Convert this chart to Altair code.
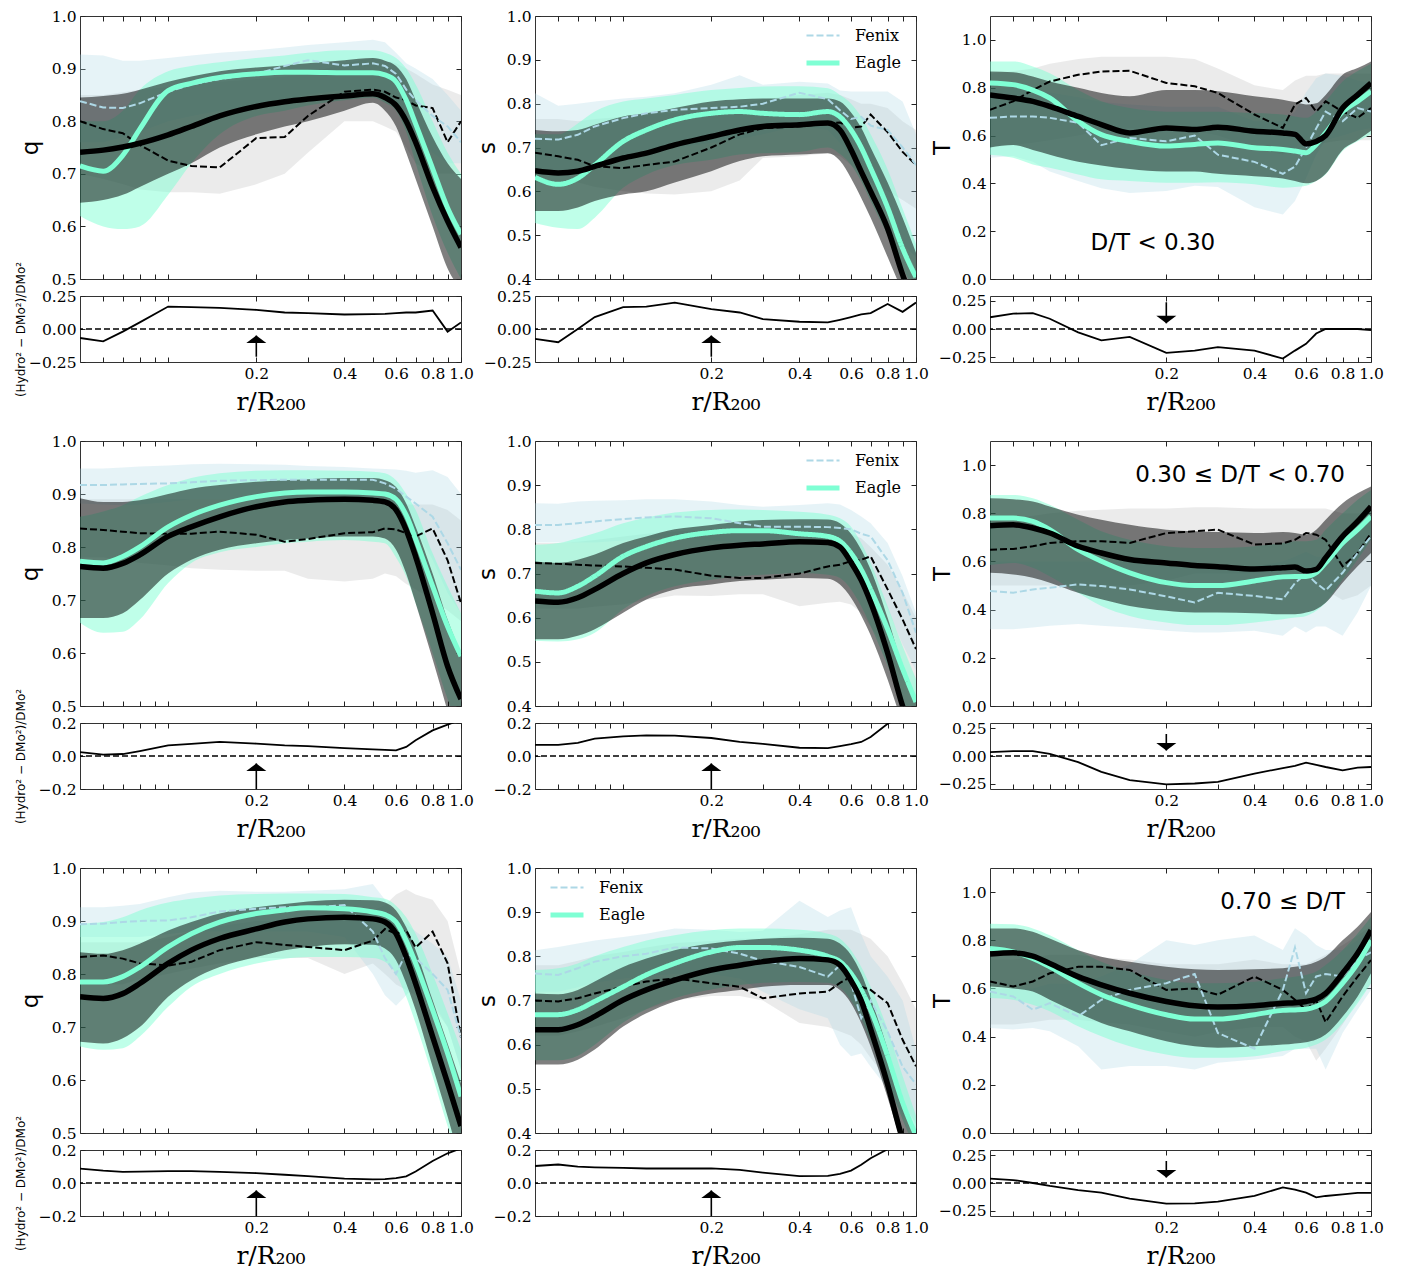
import altair as alt
import pandas as pd

# ---------------- radial grid (r / R200) ----------------
R = [0.05, 0.06, 0.07, 0.08, 0.1, 0.12, 0.15, 0.2, 0.25, 0.3, 0.4, 0.5, 0.55, 0.6, 0.65, 0.7, 0.8, 0.9, 1.0]

# ---------------- row 1 : D/T < 0.30 ----------------
# q
P11_dmo      = [0.741, 0.745, 0.751, 0.758, 0.774, 0.79, 0.81, 0.828, 0.837, 0.842, 0.848, 0.852, 0.845, 0.83, 0.80, 0.76, 0.675, 0.61, 0.56]
P11_dmo_lo   = [0.645, 0.65, 0.66, 0.675, 0.70, 0.72, 0.75, 0.775, 0.79, 0.80, 0.82, 0.835, 0.82, 0.79, 0.74, 0.69, 0.60, 0.52, 0.48]
P11_dmo_hi   = [0.845, 0.848, 0.852, 0.86, 0.875, 0.885, 0.895, 0.902, 0.906, 0.91, 0.916, 0.92, 0.915, 0.905, 0.88, 0.84, 0.77, 0.72, 0.69]
P11_eagle    = [0.715, 0.705, 0.735, 0.785, 0.858, 0.872, 0.883, 0.89, 0.893, 0.893, 0.892, 0.892, 0.888, 0.875, 0.84, 0.795, 0.71, 0.635, 0.585]
P11_eagle_lo = [0.62, 0.60, 0.595, 0.60, 0.66, 0.72, 0.775, 0.81, 0.82, 0.83, 0.84, 0.845, 0.835, 0.82, 0.78, 0.72, 0.62, 0.55, 0.50]
P11_eagle_hi = [0.80, 0.80, 0.82, 0.86, 0.895, 0.905, 0.912, 0.92, 0.925, 0.93, 0.935, 0.935, 0.93, 0.92, 0.90, 0.87, 0.80, 0.74, 0.70]
P11_fenix    = [0.838, 0.826, 0.825, 0.834, 0.856, 0.87, 0.88, 0.89, 0.905, 0.916, 0.906, 0.91, 0.905, 0.89, 0.86, 0.84, 0.81, 0.79, 0.76]
P11_fenix_lo = [0.76, 0.76, 0.77, 0.78, 0.80, 0.81, 0.82, 0.83, 0.84, 0.85, 0.86, 0.86, 0.85, 0.83, 0.80, 0.78, 0.74, 0.72, 0.72]
P11_fenix_hi = [0.927, 0.925, 0.915, 0.915, 0.92, 0.925, 0.93, 0.935, 0.94, 0.945, 0.95, 0.955, 0.95, 0.93, 0.91, 0.90, 0.88, 0.85, 0.82]
P11_hydro    = [0.80, 0.785, 0.777, 0.755, 0.725, 0.715, 0.712, 0.768, 0.77, 0.81, 0.856, 0.86, 0.856, 0.845, 0.84, 0.83, 0.825, 0.76, 0.80]
P11_hydro_lo = [0.70, 0.69, 0.68, 0.67, 0.665, 0.665, 0.662, 0.68, 0.70, 0.74, 0.80, 0.80, 0.79, 0.78, 0.75, 0.72, 0.70, 0.70, 0.70]
P11_hydro_hi = [0.85, 0.85, 0.855, 0.86, 0.865, 0.87, 0.875, 0.88, 0.885, 0.89, 0.91, 0.92, 0.915, 0.91, 0.90, 0.89, 0.87, 0.86, 0.85]
P11_resid    = [-0.068, -0.093, -0.02, 0.05, 0.17, 0.165, 0.16, 0.145, 0.125, 0.12, 0.11, 0.113, 0.115, 0.12, 0.125, 0.125, 0.14, -0.02, 0.05]
# s
P12_dmo      = [0.647, 0.642, 0.646, 0.657, 0.676, 0.687, 0.706, 0.725, 0.74, 0.748, 0.752, 0.756, 0.74, 0.695, 0.645, 0.60, 0.515, 0.41, 0.33]
P12_dmo_lo   = [0.555, 0.555, 0.563, 0.578, 0.593, 0.60, 0.62, 0.646, 0.669, 0.68, 0.684, 0.687, 0.67, 0.63, 0.585, 0.54, 0.45, 0.37, 0.30]
P12_dmo_hi   = [0.74, 0.737, 0.74, 0.752, 0.771, 0.778, 0.79, 0.805, 0.81, 0.812, 0.812, 0.812, 0.805, 0.78, 0.745, 0.70, 0.62, 0.54, 0.46]
P12_eagle    = [0.632, 0.616, 0.63, 0.66, 0.714, 0.74, 0.763, 0.778, 0.782, 0.778, 0.775, 0.782, 0.77, 0.74, 0.70, 0.653, 0.563, 0.47, 0.404]
P12_eagle_lo = [0.528, 0.517, 0.514, 0.54, 0.608, 0.638, 0.66, 0.672, 0.684, 0.687, 0.69, 0.70, 0.685, 0.66, 0.623, 0.578, 0.50, 0.426, 0.366]
P12_eagle_hi = [0.73, 0.73, 0.755, 0.782, 0.805, 0.812, 0.82, 0.831, 0.836, 0.839, 0.84, 0.835, 0.82, 0.80, 0.77, 0.73, 0.65, 0.56, 0.48]
P12_fenix    = [0.72, 0.718, 0.729, 0.748, 0.767, 0.778, 0.786, 0.79, 0.793, 0.80, 0.825, 0.81, 0.785, 0.765, 0.77, 0.75, 0.74, 0.70, 0.66]
P12_fenix_lo = [0.64, 0.64, 0.65, 0.66, 0.68, 0.69, 0.70, 0.71, 0.72, 0.73, 0.75, 0.74, 0.71, 0.68, 0.65, 0.62, 0.55, 0.48, 0.45]
P12_fenix_hi = [0.824, 0.795, 0.80, 0.805, 0.812, 0.816, 0.824, 0.843, 0.865, 0.843, 0.85, 0.846, 0.83, 0.828, 0.828, 0.828, 0.828, 0.805, 0.73]
P12_hydro    = [0.688, 0.68, 0.672, 0.657, 0.653, 0.66, 0.668, 0.70, 0.73, 0.744, 0.748, 0.755, 0.757, 0.745, 0.748, 0.775, 0.735, 0.69, 0.66]
P12_hydro_lo = [0.62, 0.62, 0.62, 0.61, 0.60, 0.595, 0.593, 0.60, 0.625, 0.676, 0.68, 0.687, 0.68, 0.66, 0.64, 0.62, 0.60, 0.58, 0.56]
P12_hydro_hi = [0.765, 0.765, 0.76, 0.765, 0.77, 0.775, 0.78, 0.79, 0.80, 0.81, 0.82, 0.825, 0.82, 0.81, 0.80, 0.80, 0.79, 0.76, 0.74]
P12_resid    = [-0.075, -0.10, 0.0, 0.09, 0.165, 0.17, 0.20, 0.15, 0.125, 0.075, 0.055, 0.05, 0.07, 0.09, 0.11, 0.12, 0.19, 0.13, 0.20]
# T
P13_dmo      = [0.77, 0.757, 0.743, 0.722, 0.68, 0.646, 0.611, 0.632, 0.625, 0.635, 0.618, 0.611, 0.605, 0.565, 0.575, 0.60, 0.715, 0.77, 0.82]
P13_dmo_lo   = [0.55, 0.56, 0.54, 0.52, 0.49, 0.475, 0.46, 0.45, 0.45, 0.44, 0.43, 0.42, 0.41, 0.40, 0.41, 0.44, 0.54, 0.58, 0.62]
P13_dmo_hi   = [0.868, 0.865, 0.847, 0.826, 0.80, 0.778, 0.764, 0.79, 0.79, 0.785, 0.764, 0.75, 0.74, 0.73, 0.735, 0.77, 0.854, 0.882, 0.91]
P13_eagle    = [0.82, 0.813, 0.79, 0.757, 0.66, 0.604, 0.576, 0.556, 0.563, 0.569, 0.549, 0.542, 0.535, 0.528, 0.563, 0.611, 0.70, 0.743, 0.785]
P13_eagle_lo = [0.52, 0.507, 0.479, 0.465, 0.4375, 0.417, 0.41, 0.403, 0.403, 0.405, 0.396, 0.382, 0.385, 0.39, 0.41, 0.4375, 0.535, 0.576, 0.604]
P13_eagle_hi = [0.91, 0.91, 0.889, 0.861, 0.79, 0.743, 0.715, 0.70, 0.70, 0.70, 0.694, 0.688, 0.68, 0.674, 0.70, 0.743, 0.826, 0.87, 0.90]
P13_fenix    = [0.674, 0.68, 0.68, 0.674, 0.653, 0.56, 0.59, 0.576, 0.60, 0.52, 0.49, 0.44, 0.47, 0.55, 0.63, 0.70, 0.66, 0.715, 0.70]
P13_fenix_lo = [0.507, 0.514, 0.49, 0.45, 0.41, 0.38, 0.36, 0.368, 0.39, 0.385, 0.30, 0.27, 0.326, 0.42, 0.52, 0.58, 0.60, 0.62, 0.632]
P13_fenix_hi = [0.80, 0.80, 0.79, 0.78, 0.76, 0.74, 0.73, 0.72, 0.72, 0.72, 0.66, 0.66, 0.70, 0.78, 0.84, 0.86, 0.85, 0.83, 0.82]
P13_hydro    = [0.708, 0.743, 0.79, 0.826, 0.854, 0.868, 0.871, 0.82, 0.806, 0.778, 0.688, 0.632, 0.73, 0.757, 0.70, 0.743, 0.70, 0.674, 0.715]
P13_hydro_lo = [0.55, 0.56, 0.57, 0.58, 0.60, 0.62, 0.63, 0.63, 0.62, 0.60, 0.55, 0.52, 0.54, 0.56, 0.56, 0.57, 0.58, 0.58, 0.58]
P13_hydro_hi = [0.86, 0.87, 0.88, 0.90, 0.92, 0.93, 0.93, 0.93, 0.92, 0.88, 0.81, 0.79, 0.83, 0.85, 0.85, 0.86, 0.86, 0.86, 0.86]
P13_resid    = [0.103, 0.135, 0.14, 0.09, -0.03, -0.10, -0.07, -0.21, -0.19, -0.16, -0.19, -0.26, -0.19, -0.13, -0.04, 0.0, 0.0, 0.0, -0.01]

# ---------------- row 2 : 0.30 <= D/T < 0.70 ----------------
P21_dmo      = [0.763, 0.76, 0.769, 0.785, 0.82, 0.838, 0.857, 0.876, 0.885, 0.888, 0.89, 0.888, 0.885, 0.87, 0.832, 0.782, 0.675, 0.575, 0.513]
P21_dmo_lo   = [0.666, 0.666, 0.675, 0.70, 0.75, 0.776, 0.795, 0.807, 0.813, 0.816, 0.82, 0.82, 0.816, 0.795, 0.75, 0.694, 0.588, 0.49, 0.40]
P21_dmo_hi   = [0.892, 0.885, 0.885, 0.888, 0.90, 0.91, 0.917, 0.923, 0.926, 0.928, 0.93, 0.93, 0.926, 0.913, 0.882, 0.838, 0.75, 0.663, 0.60]
P21_eagle    = [0.773, 0.77, 0.782, 0.80, 0.838, 0.86, 0.879, 0.895, 0.902, 0.904, 0.904, 0.902, 0.90, 0.89, 0.86, 0.815, 0.726, 0.65, 0.594]
P21_eagle_lo = [0.657, 0.638, 0.64, 0.663, 0.732, 0.77, 0.79, 0.80, 0.807, 0.81, 0.813, 0.81, 0.807, 0.78, 0.744, 0.694, 0.60, 0.513, 0.45]
P21_eagle_hi = [0.857, 0.867, 0.879, 0.895, 0.917, 0.93, 0.939, 0.944, 0.945, 0.945, 0.944, 0.942, 0.939, 0.926, 0.90, 0.87, 0.788, 0.726, 0.675]
P21_fenix    = [0.917, 0.917, 0.918, 0.919, 0.92, 0.922, 0.925, 0.926, 0.927, 0.927, 0.927, 0.927, 0.92, 0.91, 0.895, 0.882, 0.857, 0.807, 0.757]
P21_fenix_lo = [0.882, 0.88, 0.879, 0.88, 0.885, 0.89, 0.89, 0.89, 0.89, 0.89, 0.89, 0.89, 0.885, 0.87, 0.85, 0.832, 0.776, 0.713, 0.675]
P21_fenix_hi = [0.948, 0.948, 0.95, 0.952, 0.954, 0.956, 0.957, 0.956, 0.955, 0.953, 0.951, 0.948, 0.947, 0.946, 0.944, 0.94, 0.945, 0.932, 0.90]
P21_hydro    = [0.835, 0.832, 0.829, 0.826, 0.825, 0.825, 0.829, 0.823, 0.81, 0.815, 0.826, 0.828, 0.835, 0.833, 0.826, 0.82, 0.835, 0.775, 0.694]
P21_hydro_lo = [0.78, 0.78, 0.775, 0.77, 0.765, 0.76, 0.757, 0.755, 0.755, 0.74, 0.735, 0.74, 0.75, 0.745, 0.73, 0.72, 0.70, 0.68, 0.66]
P21_hydro_hi = [0.89, 0.89, 0.89, 0.89, 0.89, 0.89, 0.89, 0.89, 0.89, 0.89, 0.89, 0.89, 0.89, 0.885, 0.88, 0.88, 0.88, 0.87, 0.85]
P21_resid    = [0.024, 0.008, 0.012, 0.03, 0.064, 0.074, 0.085, 0.075, 0.065, 0.06, 0.048, 0.04, 0.037, 0.034, 0.055, 0.095, 0.155, 0.19, 0.22]

P22_dmo      = [0.638, 0.635, 0.645, 0.664, 0.70, 0.724, 0.743, 0.758, 0.764, 0.767, 0.772, 0.77, 0.76, 0.725, 0.685, 0.635, 0.52, 0.40, 0.32]
P22_dmo_lo   = [0.551, 0.551, 0.559, 0.574, 0.611, 0.641, 0.664, 0.675, 0.683, 0.686, 0.69, 0.688, 0.675, 0.645, 0.605, 0.56, 0.46, 0.36, 0.28]
P22_dmo_hi   = [0.728, 0.724, 0.731, 0.743, 0.769, 0.784, 0.80, 0.81, 0.818, 0.821, 0.823, 0.822, 0.814, 0.79, 0.754, 0.709, 0.60, 0.49, 0.41]
P22_eagle    = [0.66, 0.656, 0.671, 0.694, 0.739, 0.761, 0.78, 0.793, 0.797, 0.797, 0.79, 0.784, 0.773, 0.746, 0.709, 0.664, 0.574, 0.484, 0.409]
P22_eagle_lo = [0.548, 0.546, 0.551, 0.566, 0.619, 0.649, 0.671, 0.686, 0.694, 0.697, 0.701, 0.697, 0.69, 0.664, 0.626, 0.581, 0.491, 0.409, 0.33]
P22_eagle_hi = [0.765, 0.769, 0.78, 0.791, 0.814, 0.827, 0.838, 0.844, 0.845, 0.844, 0.84, 0.833, 0.825, 0.806, 0.769, 0.724, 0.626, 0.536, 0.461]
P22_fenix    = [0.81, 0.81, 0.814, 0.818, 0.823, 0.827, 0.829, 0.825, 0.814, 0.806, 0.806, 0.805, 0.803, 0.80, 0.79, 0.784, 0.73, 0.656, 0.566]
P22_fenix_lo = [0.77, 0.77, 0.77, 0.77, 0.775, 0.78, 0.78, 0.775, 0.77, 0.77, 0.77, 0.765, 0.76, 0.75, 0.73, 0.70, 0.62, 0.54, 0.48]
P22_fenix_hi = [0.859, 0.858, 0.863, 0.865, 0.866, 0.868, 0.868, 0.863, 0.855, 0.851, 0.855, 0.859, 0.856, 0.844, 0.829, 0.814, 0.769, 0.694, 0.611]
P22_hydro    = [0.724, 0.722, 0.72, 0.718, 0.716, 0.713, 0.709, 0.695, 0.69, 0.69, 0.70, 0.716, 0.72, 0.728, 0.731, 0.739, 0.664, 0.596, 0.529]
P22_hydro_lo = [0.62, 0.62, 0.62, 0.625, 0.63, 0.64, 0.65, 0.649, 0.653, 0.653, 0.626, 0.634, 0.636, 0.63, 0.611, 0.58, 0.52, 0.46, 0.416]
P22_hydro_hi = [0.769, 0.769, 0.772, 0.776, 0.784, 0.79, 0.795, 0.80, 0.80, 0.80, 0.80, 0.80, 0.80, 0.79, 0.78, 0.76, 0.72, 0.66, 0.60]
P22_resid    = [0.068, 0.068, 0.08, 0.105, 0.119, 0.125, 0.124, 0.109, 0.085, 0.074, 0.05, 0.048, 0.06, 0.072, 0.085, 0.115, 0.195, 0.245, 0.28]

P23_dmo      = [0.748, 0.752, 0.739, 0.718, 0.663, 0.635, 0.608, 0.594, 0.583, 0.578, 0.569, 0.574, 0.577, 0.56, 0.567, 0.615, 0.704, 0.766, 0.828]
P23_dmo_lo   = [0.553, 0.546, 0.532, 0.512, 0.47, 0.443, 0.415, 0.395, 0.388, 0.388, 0.385, 0.381, 0.381, 0.388, 0.402, 0.429, 0.512, 0.58, 0.635]
P23_dmo_hi   = [0.862, 0.858, 0.849, 0.828, 0.794, 0.773, 0.752, 0.732, 0.725, 0.722, 0.718, 0.722, 0.718, 0.711, 0.732, 0.773, 0.842, 0.883, 0.911]
P23_eagle    = [0.78, 0.78, 0.766, 0.732, 0.649, 0.601, 0.553, 0.512, 0.50, 0.50, 0.519, 0.536, 0.538, 0.538, 0.553, 0.594, 0.677, 0.732, 0.787]
P23_eagle_lo = [0.585, 0.594, 0.574, 0.539, 0.47, 0.415, 0.374, 0.347, 0.336, 0.336, 0.347, 0.36, 0.367, 0.374, 0.395, 0.429, 0.525, 0.608, 0.69]
P23_eagle_hi = [0.876, 0.876, 0.862, 0.835, 0.773, 0.725, 0.69, 0.663, 0.656, 0.656, 0.663, 0.677, 0.684, 0.684, 0.69, 0.732, 0.80, 0.856, 0.897]
P23_fenix    = [0.477, 0.47, 0.484, 0.491, 0.505, 0.498, 0.484, 0.455, 0.43, 0.47, 0.457, 0.443, 0.51, 0.55, 0.51, 0.48, 0.553, 0.635, 0.704]
P23_fenix_lo = [0.319, 0.319, 0.326, 0.333, 0.34, 0.333, 0.326, 0.312, 0.305, 0.305, 0.312, 0.292, 0.33, 0.305, 0.33, 0.33, 0.292, 0.388, 0.498]
P23_fenix_hi = [0.60, 0.60, 0.60, 0.60, 0.60, 0.60, 0.60, 0.58, 0.57, 0.58, 0.58, 0.60, 0.62, 0.64, 0.62, 0.62, 0.70, 0.76, 0.80]
P23_hydro    = [0.649, 0.652, 0.663, 0.677, 0.684, 0.684, 0.677, 0.718, 0.725, 0.732, 0.67, 0.675, 0.69, 0.718, 0.711, 0.69, 0.58, 0.635, 0.718]
P23_hydro_lo = [0.50, 0.50, 0.50, 0.50, 0.50, 0.50, 0.50, 0.52, 0.55, 0.55, 0.55, 0.56, 0.55, 0.55, 0.52, 0.48, 0.44, 0.46, 0.50]
P23_hydro_hi = [0.78, 0.78, 0.79, 0.80, 0.81, 0.815, 0.82, 0.82, 0.825, 0.825, 0.82, 0.82, 0.82, 0.82, 0.82, 0.82, 0.80, 0.80, 0.80]
P23_resid    = [0.036, 0.045, 0.045, 0.02, -0.055, -0.145, -0.22, -0.258, -0.25, -0.236, -0.16, -0.11, -0.09, -0.06, -0.08, -0.10, -0.13, -0.105, -0.10]

# ---------------- row 3 : 0.70 <= D/T ----------------
P31_dmo      = [0.757, 0.754, 0.763, 0.782, 0.82, 0.845, 0.867, 0.885, 0.898, 0.904, 0.907, 0.904, 0.898, 0.876, 0.832, 0.782, 0.682, 0.594, 0.513]
P31_dmo_lo   = [0.672, 0.669, 0.679, 0.70, 0.757, 0.788, 0.813, 0.832, 0.845, 0.851, 0.856, 0.855, 0.848, 0.826, 0.782, 0.732, 0.625, 0.531, 0.44]
P31_dmo_hi   = [0.841, 0.838, 0.845, 0.857, 0.882, 0.898, 0.914, 0.926, 0.932, 0.937, 0.94, 0.939, 0.935, 0.92, 0.888, 0.845, 0.751, 0.669, 0.594]
P31_eagle    = [0.785, 0.785, 0.795, 0.813, 0.851, 0.876, 0.898, 0.914, 0.921, 0.925, 0.923, 0.917, 0.912, 0.898, 0.863, 0.82, 0.732, 0.65, 0.569]
P31_eagle_lo = [0.663, 0.657, 0.66, 0.682, 0.738, 0.776, 0.80, 0.82, 0.829, 0.832, 0.832, 0.83, 0.823, 0.80, 0.757, 0.707, 0.607, 0.513, 0.44]
P31_eagle_hi = [0.895, 0.898, 0.907, 0.92, 0.935, 0.942, 0.948, 0.951, 0.952, 0.952, 0.951, 0.945, 0.942, 0.929, 0.907, 0.876, 0.80, 0.726, 0.657]
P31_fenix    = [0.894, 0.895, 0.898, 0.90, 0.901, 0.907, 0.918, 0.923, 0.926, 0.925, 0.93, 0.88, 0.83, 0.80, 0.84, 0.83, 0.80, 0.77, 0.68]
P31_fenix_lo = [0.87, 0.87, 0.87, 0.87, 0.875, 0.88, 0.88, 0.88, 0.88, 0.88, 0.87, 0.80, 0.76, 0.74, 0.76, 0.78, 0.75, 0.70, 0.62]
P31_fenix_hi = [0.926, 0.926, 0.929, 0.932, 0.945, 0.954, 0.957, 0.955, 0.955, 0.957, 0.96, 0.97, 0.94, 0.907, 0.895, 0.88, 0.857, 0.832, 0.75]
P31_hydro    = [0.832, 0.835, 0.829, 0.82, 0.816, 0.823, 0.845, 0.86, 0.855, 0.851, 0.845, 0.863, 0.885, 0.876, 0.882, 0.85, 0.88, 0.82, 0.68]
P31_hydro_lo = [0.78, 0.78, 0.78, 0.79, 0.80, 0.81, 0.82, 0.83, 0.83, 0.83, 0.80, 0.82, 0.80, 0.78, 0.77, 0.76, 0.74, 0.70, 0.62]
P31_hydro_hi = [0.86, 0.86, 0.86, 0.86, 0.87, 0.88, 0.89, 0.90, 0.90, 0.90, 0.90, 0.92, 0.93, 0.95, 0.96, 0.95, 0.94, 0.90, 0.80]
P31_resid    = [0.087, 0.075, 0.068, 0.069, 0.072, 0.072, 0.068, 0.06, 0.05, 0.042, 0.026, 0.022, 0.024, 0.03, 0.04, 0.07, 0.133, 0.18, 0.21]

P32_dmo      = [0.634, 0.634, 0.645, 0.664, 0.701, 0.724, 0.746, 0.769, 0.78, 0.788, 0.795, 0.792, 0.78, 0.745, 0.70, 0.635, 0.51, 0.385, 0.30]
P32_dmo_lo   = [0.555, 0.555, 0.566, 0.589, 0.641, 0.671, 0.698, 0.716, 0.724, 0.731, 0.735, 0.735, 0.724, 0.694, 0.649, 0.596, 0.48, 0.37, 0.28]
P32_dmo_hi   = [0.716, 0.714, 0.724, 0.743, 0.776, 0.795, 0.814, 0.829, 0.836, 0.84, 0.842, 0.84, 0.829, 0.803, 0.761, 0.705, 0.59, 0.47, 0.39]
P32_eagle    = [0.668, 0.668, 0.679, 0.698, 0.731, 0.758, 0.784, 0.81, 0.82, 0.82, 0.814, 0.80, 0.788, 0.761, 0.724, 0.679, 0.574, 0.469, 0.394]
P32_eagle_lo = [0.565, 0.565, 0.575, 0.60, 0.65, 0.68, 0.705, 0.725, 0.735, 0.74, 0.742, 0.74, 0.73, 0.70, 0.66, 0.61, 0.52, 0.43, 0.36]
P32_eagle_hi = [0.769, 0.773, 0.784, 0.80, 0.821, 0.836, 0.848, 0.859, 0.863, 0.863, 0.86, 0.851, 0.84, 0.814, 0.776, 0.731, 0.634, 0.529, 0.439]
P32_fenix    = [0.761, 0.758, 0.773, 0.788, 0.80, 0.806, 0.82, 0.818, 0.806, 0.79, 0.776, 0.754, 0.78, 0.74, 0.66, 0.70, 0.63, 0.55, 0.51]
P32_fenix_lo = [0.72, 0.72, 0.73, 0.74, 0.75, 0.755, 0.76, 0.76, 0.75, 0.72, 0.68, 0.66, 0.60, 0.574, 0.58, 0.55, 0.50, 0.44, 0.40]
P32_fenix_hi = [0.814, 0.821, 0.829, 0.836, 0.844, 0.851, 0.863, 0.86, 0.855, 0.858, 0.926, 0.889, 0.904, 0.911, 0.85, 0.80, 0.754, 0.70, 0.589]
P32_hydro    = [0.70, 0.698, 0.705, 0.716, 0.731, 0.743, 0.75, 0.739, 0.731, 0.705, 0.716, 0.72, 0.74, 0.754, 0.731, 0.724, 0.694, 0.611, 0.551]
P32_hydro_lo = [0.62, 0.62, 0.63, 0.64, 0.66, 0.68, 0.70, 0.71, 0.71, 0.70, 0.649, 0.64, 0.63, 0.62, 0.60, 0.57, 0.52, 0.47, 0.42]
P32_hydro_hi = [0.78, 0.78, 0.79, 0.80, 0.81, 0.82, 0.83, 0.835, 0.84, 0.84, 0.85, 0.86, 0.86, 0.86, 0.85, 0.84, 0.80, 0.74, 0.68]
P32_resid    = [0.103, 0.112, 0.099, 0.095, 0.092, 0.088, 0.088, 0.089, 0.079, 0.063, 0.042, 0.043, 0.055, 0.075, 0.11, 0.15, 0.205, 0.25, 0.28]

P33_dmo      = [0.743, 0.748, 0.734, 0.704, 0.649, 0.615, 0.58, 0.546, 0.528, 0.523, 0.528, 0.539, 0.541, 0.546, 0.556, 0.58, 0.663, 0.746, 0.842]
P33_dmo_lo   = [0.608, 0.60, 0.587, 0.553, 0.498, 0.457, 0.422, 0.381, 0.36, 0.354, 0.36, 0.367, 0.372, 0.377, 0.388, 0.409, 0.484, 0.567, 0.663]
P33_dmo_hi   = [0.849, 0.849, 0.835, 0.807, 0.759, 0.732, 0.711, 0.69, 0.68, 0.677, 0.68, 0.684, 0.69, 0.697, 0.711, 0.732, 0.80, 0.856, 0.917]
P33_eagle    = [0.766, 0.752, 0.725, 0.69, 0.622, 0.574, 0.532, 0.491, 0.473, 0.473, 0.491, 0.509, 0.511, 0.514, 0.525, 0.546, 0.622, 0.704, 0.80]
P33_eagle_lo = [0.56, 0.553, 0.532, 0.505, 0.443, 0.402, 0.36, 0.326, 0.312, 0.312, 0.319, 0.34, 0.347, 0.354, 0.367, 0.388, 0.457, 0.539, 0.622]
P33_eagle_hi = [0.869, 0.866, 0.849, 0.821, 0.759, 0.711, 0.67, 0.635, 0.622, 0.622, 0.628, 0.642, 0.649, 0.656, 0.67, 0.697, 0.759, 0.828, 0.897]
P33_fenix    = [0.587, 0.567, 0.512, 0.539, 0.484, 0.553, 0.594, 0.622, 0.66, 0.415, 0.35, 0.594, 0.77, 0.58, 0.65, 0.66, 0.65, 0.72, 0.75]
P33_fenix_lo = [0.436, 0.43, 0.436, 0.422, 0.36, 0.264, 0.278, 0.278, 0.264, 0.292, 0.305, 0.32, 0.35, 0.35, 0.35, 0.264, 0.415, 0.512, 0.594]
P33_fenix_hi = [0.60, 0.60, 0.60, 0.62, 0.62, 0.65, 0.70, 0.80, 0.78, 0.80, 0.82, 0.76, 0.85, 0.82, 0.78, 0.76, 0.76, 0.80, 0.85]
P33_hydro    = [0.629, 0.608, 0.629, 0.663, 0.69, 0.69, 0.677, 0.594, 0.60, 0.574, 0.649, 0.594, 0.553, 0.512, 0.55, 0.46, 0.567, 0.649, 0.718]
P33_hydro_lo = [0.45, 0.45, 0.46, 0.47, 0.47, 0.46, 0.45, 0.42, 0.40, 0.42, 0.44, 0.44, 0.40, 0.38, 0.30, 0.35, 0.45, 0.55, 0.62]
P33_hydro_hi = [0.72, 0.72, 0.73, 0.74, 0.74, 0.73, 0.72, 0.70, 0.70, 0.70, 0.72, 0.70, 0.70, 0.70, 0.72, 0.74, 0.78, 0.82, 0.86]
P33_resid    = [0.04, 0.027, 0.0, -0.027, -0.064, -0.088, -0.142, -0.188, -0.185, -0.17, -0.118, -0.04, -0.06, -0.088, -0.13, -0.118, -0.103, -0.09, -0.09]

# ---------------- labels / ticks ----------------
Y_TITLES = ["q", "s", "T"]
Y_DOMAINS = [[0.5, 1.0], [0.4, 1.0], [0.0, 1.1]]
Y_TICKS = [[0.5, 0.6, 0.7, 0.8, 0.9, 1.0],
           [0.4, 0.5, 0.6, 0.7, 0.8, 0.9, 1.0],
           [0.0, 0.2, 0.4, 0.6, 0.8, 1.0]]
X_TICKS = [0.06, 0.07, 0.08, 0.09, 0.1, 0.2, 0.3, 0.4, 0.5, 0.6, 0.7, 0.8, 0.9, 1.0]
RES_TITLE = "(Hydro\u00b2 \u2212 DMo\u00b2)/DMo\u00b2"
X_TITLE = "r/R\u2082\u2080\u2080"
DT_LABELS = ["D/T < 0.30", "0.30 \u2264 D/T < 0.70", "0.70 \u2264 D/T"]
DT_X = [0.18, 0.815, 0.815]
DT_Y = [0.15, 0.958, 0.958]
DT_ALIGN = ["center", "right", "right"]
SERIES = ["Fenix", "Eagle"]
LEGEND_POS = [(269, 2), (269, 2), (13, 2)]  # legend offset inside the s-panels (px from plot corner)
ARROW_R = 0.2
# [row][col] -> (tail, tip) of the arrow in residual units
ARROWS = [[(-0.21, -0.05), (-0.21, -0.05), (0.235, 0.05)],
          [(-0.2, -0.045), (-0.2, -0.045), (0.2, 0.05)],
          [(-0.2, -0.045), (-0.2, -0.045), (0.2, 0.05)]]

FENIX_C = "#add8e6"
EAGLE_C = "#7fffd4"
TICK = 5
LABEL_FS = 15.5
WIDTHS = [381, 381, 381]
MAIN_H = [263, 265, 265]
RES_H = 66
RES_TITLE_EXT = [58, 58, 58]

LABEL_EXPR = ("(datum.value > 0.15 && abs(datum.value * 5 - round(datum.value * 5)) < 0.001)"
              " ? format(datum.value, '.1f') : ''")

PANELS = [
    [dict(dmo=P11_dmo, dmo_lo=P11_dmo_lo, dmo_hi=P11_dmo_hi, eagle=P11_eagle, eagle_lo=P11_eagle_lo, eagle_hi=P11_eagle_hi,
          fenix=P11_fenix, fenix_lo=P11_fenix_lo, fenix_hi=P11_fenix_hi, hydro=P11_hydro, hydro_lo=P11_hydro_lo, hydro_hi=P11_hydro_hi, resid=P11_resid),
     dict(dmo=P12_dmo, dmo_lo=P12_dmo_lo, dmo_hi=P12_dmo_hi, eagle=P12_eagle, eagle_lo=P12_eagle_lo, eagle_hi=P12_eagle_hi,
          fenix=P12_fenix, fenix_lo=P12_fenix_lo, fenix_hi=P12_fenix_hi, hydro=P12_hydro, hydro_lo=P12_hydro_lo, hydro_hi=P12_hydro_hi, resid=P12_resid),
     dict(dmo=P13_dmo, dmo_lo=P13_dmo_lo, dmo_hi=P13_dmo_hi, eagle=P13_eagle, eagle_lo=P13_eagle_lo, eagle_hi=P13_eagle_hi,
          fenix=P13_fenix, fenix_lo=P13_fenix_lo, fenix_hi=P13_fenix_hi, hydro=P13_hydro, hydro_lo=P13_hydro_lo, hydro_hi=P13_hydro_hi, resid=P13_resid)],
    [dict(dmo=P21_dmo, dmo_lo=P21_dmo_lo, dmo_hi=P21_dmo_hi, eagle=P21_eagle, eagle_lo=P21_eagle_lo, eagle_hi=P21_eagle_hi,
          fenix=P21_fenix, fenix_lo=P21_fenix_lo, fenix_hi=P21_fenix_hi, hydro=P21_hydro, hydro_lo=P21_hydro_lo, hydro_hi=P21_hydro_hi, resid=P21_resid),
     dict(dmo=P22_dmo, dmo_lo=P22_dmo_lo, dmo_hi=P22_dmo_hi, eagle=P22_eagle, eagle_lo=P22_eagle_lo, eagle_hi=P22_eagle_hi,
          fenix=P22_fenix, fenix_lo=P22_fenix_lo, fenix_hi=P22_fenix_hi, hydro=P22_hydro, hydro_lo=P22_hydro_lo, hydro_hi=P22_hydro_hi, resid=P22_resid),
     dict(dmo=P23_dmo, dmo_lo=P23_dmo_lo, dmo_hi=P23_dmo_hi, eagle=P23_eagle, eagle_lo=P23_eagle_lo, eagle_hi=P23_eagle_hi,
          fenix=P23_fenix, fenix_lo=P23_fenix_lo, fenix_hi=P23_fenix_hi, hydro=P23_hydro, hydro_lo=P23_hydro_lo, hydro_hi=P23_hydro_hi, resid=P23_resid)],
    [dict(dmo=P31_dmo, dmo_lo=P31_dmo_lo, dmo_hi=P31_dmo_hi, eagle=P31_eagle, eagle_lo=P31_eagle_lo, eagle_hi=P31_eagle_hi,
          fenix=P31_fenix, fenix_lo=P31_fenix_lo, fenix_hi=P31_fenix_hi, hydro=P31_hydro, hydro_lo=P31_hydro_lo, hydro_hi=P31_hydro_hi, resid=P31_resid),
     dict(dmo=P32_dmo, dmo_lo=P32_dmo_lo, dmo_hi=P32_dmo_hi, eagle=P32_eagle, eagle_lo=P32_eagle_lo, eagle_hi=P32_eagle_hi,
          fenix=P32_fenix, fenix_lo=P32_fenix_lo, fenix_hi=P32_fenix_hi, hydro=P32_hydro, hydro_lo=P32_hydro_lo, hydro_hi=P32_hydro_hi, resid=P32_resid),
     dict(dmo=P33_dmo, dmo_lo=P33_dmo_lo, dmo_hi=P33_dmo_hi, eagle=P33_eagle, eagle_lo=P33_eagle_lo, eagle_hi=P33_eagle_hi,
          fenix=P33_fenix, fenix_lo=P33_fenix_lo, fenix_hi=P33_fenix_hi, hydro=P33_hydro, hydro_lo=P33_hydro_lo, hydro_hi=P33_hydro_hi, resid=P33_resid)],
]

XSCALE = alt.Scale(type="log", domain=[0.05, 1.0], nice=False)


def x_enc(axis=None):
    return alt.X("r:Q", scale=XSCALE, axis=axis)


def ax_bottom(show):
    if show:
        return alt.Axis(orient="bottom", values=X_TICKS, tickSize=TICK, offset=-TICK, domain=False, grid=False,
                        labelExpr=LABEL_EXPR, labelOverlap=False, labelFlush=False, labelFont="DejaVu Serif",
                        labelFontSize=LABEL_FS, labelPadding=4, title=X_TITLE, titleFont="DejaVu Serif",
                        titleFontSize=25, titleFontWeight="normal", titlePadding=0, minExtent=32, maxExtent=32)
    return alt.Axis(orient="bottom", values=X_TICKS, tickSize=TICK, offset=-TICK, domain=False, grid=False,
                    labels=False, title=None, minExtent=0, maxExtent=0)


def ax_top():
    return alt.Axis(orient="top", values=X_TICKS, tickSize=TICK, offset=-TICK, domain=False, grid=False,
                    labels=False, title=None, minExtent=0, maxExtent=0)


def ax_left(values, fmt, title, ext, tfont, tsize):
    return alt.Axis(orient="left", values=values, format=fmt, tickSize=TICK, offset=-TICK, domain=False, grid=False,
                    labelFont="DejaVu Serif", labelFontSize=LABEL_FS, labelPadding=4, labelOverlap=False,
                    title=title, titleFont=tfont, titleFontSize=tsize, titleFontWeight="normal",
                    titlePadding=0, minExtent=ext, maxExtent=ext)


def ax_right(values):
    return alt.Axis(orient="right", values=values, tickSize=TICK, offset=-TICK, domain=False, grid=False,
                    labels=False, title=None, minExtent=0, maxExtent=0)


def main_panel(row, col):
    d = PANELS[row][col]
    df = pd.DataFrame({"r": R, **{k: v for k, v in d.items() if k != "resid"}})
    ys = alt.Scale(domain=Y_DOMAINS[col], nice=False, zero=False)

    def Y(f, axis=None):
        return alt.Y(f + ":Q", scale=ys, axis=axis)

    base = alt.Chart(df)
    left = ax_left(Y_TICKS[col], ".1f", Y_TITLES[col], 43 if col == 0 else 41, "DejaVu Sans", 23)
    layers = [
        base.mark_area(color="black", opacity=0.08, clip=True).encode(
            x=x_enc(ax_bottom(False)), y=Y("hydro_lo", left), y2="hydro_hi"),
        base.mark_area(color=FENIX_C, opacity=0.3, clip=True).encode(
            x=x_enc(ax_top()), y=Y("fenix_lo", ax_right(Y_TICKS[col])), y2="fenix_hi"),
        base.mark_area(color=EAGLE_C, opacity=0.5, clip=True, interpolate="monotone").encode(
            x=x_enc(), y=Y("eagle_lo"), y2="eagle_hi"),
        base.mark_area(color="black", opacity=0.5, clip=True, interpolate="monotone").encode(
            x=x_enc(), y=Y("dmo_lo"), y2="dmo_hi"),
        base.mark_line(color="black", strokeWidth=2, strokeDash=[7, 3], clip=True).encode(
            x=x_enc(), y=Y("hydro")),
    ]
    if col == 1:
        lx, ly = LEGEND_POS[row]
        leg = alt.Legend(title=None, orient="none", legendX=lx, legendY=ly, symbolType="stroke", symbolSize=1089,
                         labelFont="DejaVu Serif", labelFontSize=16, labelColor="black", labelOffset=13,
                         rowPadding=0, padding=0)
        color = alt.Color("series:N", scale=alt.Scale(domain=SERIES, range=[FENIX_C, EAGLE_C]), legend=leg)
        dash = alt.StrokeDash("series:N", scale=alt.Scale(domain=SERIES, range=[[7, 3], [1, 0]]), legend=leg)
        width = alt.StrokeWidth("series:N", scale=alt.Scale(domain=SERIES, range=[2, 5]), legend=leg)
        layers.append(base.transform_calculate(series="'Fenix'").mark_line(clip=True).encode(
            x=x_enc(), y=Y("fenix"), color=color, strokeDash=dash, strokeWidth=width))
        layers.append(base.transform_calculate(series="'Eagle'").mark_line(clip=True, interpolate="monotone").encode(
            x=x_enc(), y=Y("eagle"), color=color, strokeDash=dash, strokeWidth=width))
    else:
        layers.append(base.mark_line(color=FENIX_C, strokeWidth=2, strokeDash=[7, 3], clip=True).encode(
            x=x_enc(), y=Y("fenix")))
        layers.append(base.mark_line(color=EAGLE_C, strokeWidth=5, clip=True, interpolate="monotone").encode(
            x=x_enc(), y=Y("eagle")))
    layers.append(base.mark_line(color="black", strokeWidth=5.5, clip=True, interpolate="monotone").encode(
        x=x_enc(), y=Y("dmo")))
    if col == 2:
        tdf = pd.DataFrame({"r": [DT_X[row]], "ty": [DT_Y[row]], "label": [DT_LABELS[row]]})
        layers.append(alt.Chart(tdf).mark_text(font="DejaVu Sans", fontSize=23, color="black",
                                               align=DT_ALIGN[row], baseline="middle").encode(
            x=x_enc(), y=Y("ty"), text="label:N"))
    return alt.layer(*layers).resolve_axis(x="independent", y="independent").properties(
        width=WIDTHS[row], height=MAIN_H[row])


def resid_panel(row, col):
    d = PANELS[row][col]
    rdf = pd.DataFrame({"r": R, "res": d["resid"]})
    if col == 2:
        dom = [-0.29, 0.29] if row == 0 else [-0.3, 0.3]
        vals, fmt = [-0.25, 0.0, 0.25], ".2f"
    elif row == 0:
        dom = [-0.25, 0.25]
        vals, fmt = [-0.25, 0.0, 0.25], ".2f"
    else:
        dom = [-0.2, 0.2]
        vals, fmt = [-0.2, 0.0, 0.2], ".1f"
    ys = alt.Scale(domain=dom, nice=False, zero=False)
    if col == 0:
        left = ax_left(vals, fmt, RES_TITLE, RES_TITLE_EXT[row], "DejaVu Sans", 12)
    else:
        left = ax_left(vals, fmt, None, 30, "DejaVu Sans", 12)
    tail, tip = ARROWS[row][col]
    adf = pd.DataFrame({"r": [ARROW_R], "tail": [tail], "tip": [tip]})
    head = "M -1 -0.75 L 1 -0.75 L 0 0 Z" if tip < tail else "M -1 0.75 L 1 0.75 L 0 0 Z"
    zero = alt.Chart(pd.DataFrame({"z": [0.0]})).mark_rule(color="black", strokeWidth=1.5, strokeDash=[6, 3]).encode(
        y=alt.Y("z:Q", scale=ys, axis=None))
    line = alt.Chart(rdf).mark_line(color="black", strokeWidth=1.8, clip=True).encode(
        x=x_enc(ax_bottom(True)), y=alt.Y("res:Q", scale=ys, axis=left))
    shaft = alt.Chart(adf).mark_rule(color="black", strokeWidth=1.6).encode(
        x=x_enc(ax_top()), y=alt.Y("tail:Q", scale=ys, axis=ax_right(vals)), y2="tip")
    arrow = alt.Chart(adf).mark_point(shape=head, size=400, filled=True, color="black", opacity=1,
                                      strokeWidth=0).encode(x=x_enc(), y=alt.Y("tip:Q", scale=ys, axis=None))
    return alt.layer(zero, line, shaft, arrow).resolve_axis(x="independent", y="independent").properties(
        width=WIDTHS[row], height=RES_H)


IND = dict(color="independent", strokeDash="independent", strokeWidth="independent")

rows = []
for i in range(3):
    cells = []
    for j in range(3):
        cell = alt.vconcat(main_panel(i, j), resid_panel(i, j), spacing=17, bounds="flush") \
            .resolve_scale(**IND).resolve_legend(**IND)
        cells.append(cell)
    rows.append(alt.hconcat(*cells, spacing=1).resolve_scale(**IND).resolve_legend(**IND))

chart = alt.vconcat(*rows, spacing=18).resolve_scale(**IND).resolve_legend(**IND).properties(
    padding={"left": 5, "top": 0, "right": 5, "bottom": 0}
).configure_view(stroke="#333", strokeWidth=1).configure_axis(
    labelColor="black", tickColor="#222", titleColor="black", tickWidth=1)

chart.save("out.html", embed_options={"renderer": "svg", "actions": False})
